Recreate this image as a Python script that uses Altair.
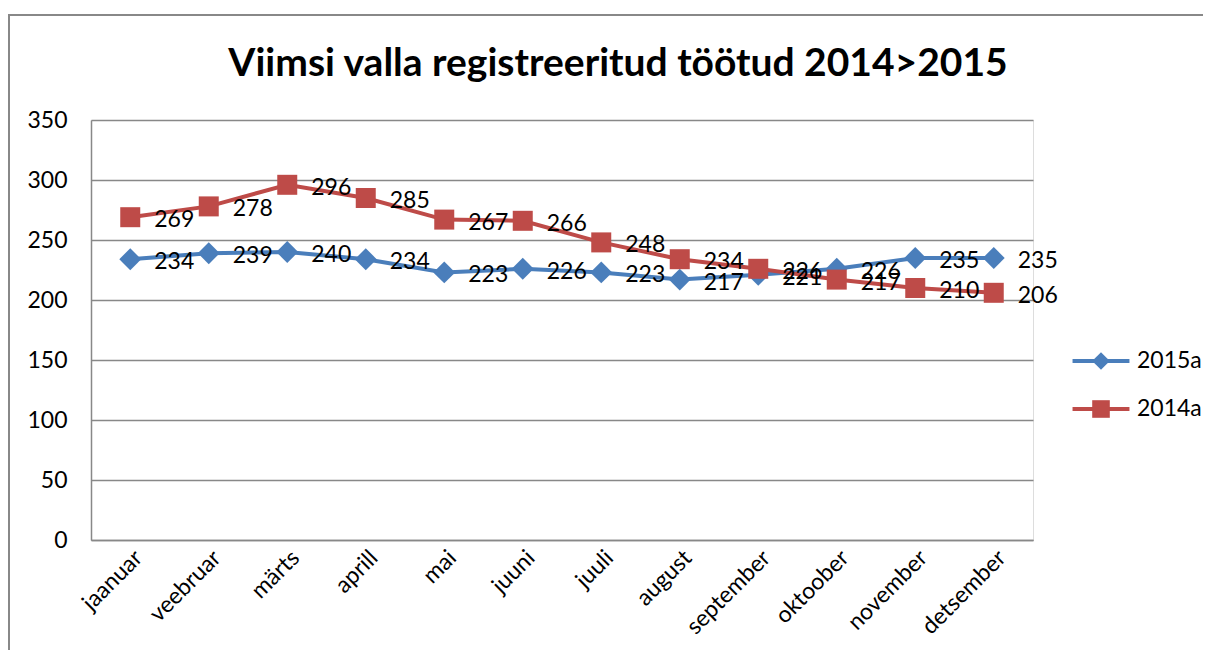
import altair as alt
import pandas as pd

months = ["jaanuar", "veebruar", "märts", "aprill", "mai", "juuni", "juuli",
          "august", "september", "oktoober", "november", "detsember"]
s2015 = [234, 239, 240, 234, 223, 226, 223, 217, 221, 226, 235, 235]
s2014 = [269, 278, 296, 285, 267, 266, 248, 234, 226, 217, 210, 206]
series = ["2015a", "2014a"]
colors = ["#4A7EBB", "#BE4B48"]

rows = []
for m, a, b in zip(months, s2015, s2014):
    rows.append({"month": m, "series": "2015a", "value": a})
    rows.append({"month": m, "series": "2014a", "value": b})
df = pd.DataFrame(rows)

FONT = "Lato"
FS = 23
W, H = 942, 420

x = alt.X("month:N", sort=months, title=None,
          scale=alt.Scale(paddingInner=0, paddingOuter=0),
          axis=alt.Axis(labelAngle=-45, labelAlign="right", labelBaseline="middle",
                        labelFontSize=FS, labelFont=FONT, labelColor="#000",
                        labelPadding=14, labelOffset=8, ticks=False,
                        domainColor="#888", domainWidth=1.5, grid=False))
y = alt.Y("value:Q", title=None,
          scale=alt.Scale(domain=[0, 350], nice=False),
          axis=alt.Axis(values=list(range(0, 351, 50)), labelFontSize=FS,
                        labelFont=FONT, labelColor="#000", labelPadding=24,
                        ticks=False, domainColor="#888", domainWidth=1.5,
                        gridColor="#888", gridWidth=1.5))
color = alt.Color("series:N", sort=series,
                  scale=alt.Scale(domain=series, range=colors),
                  legend=None)

base = alt.Chart(df)

lines = base.mark_line(strokeWidth=4).encode(x=x, y=y, color=color,
                                             detail="series:N")

points = base.mark_point(filled=True, opacity=1).encode(
    x=x, y=y, color=color,
    shape=alt.Shape("series:N", sort=series,
                    scale=alt.Scale(domain=series, range=["diamond", "square"]),
                    legend=None),
    size=alt.Size("series:N", scale=alt.Scale(domain=series, range=[480, 400]),
                  legend=None),
)

labels = base.mark_text(align="left", baseline="middle", dx=24, dy=3,
                        fontSize=FS, font=FONT, color="#000").encode(
    x=x, y=y, text="value:Q")

line_leg = "M-2.07,0H2.07"
diamond_leg = "M0,-0.64L0.64,0L0,0.64L-0.64,0Z"
square_leg = "M-0.64,-0.64H0.64V0.64H-0.64Z"

LX = 994
LY = [225, 273]


def legend_layer(name, path, col, ly, filled, show_label):
    return base.transform_filter("datum.value < 0").mark_point(
        filled=filled, color=col, strokeWidth=4, opacity=1
    ).encode(
        x=x, y=y,
        shape=alt.Shape("series:N",
                        scale=alt.Scale(domain=[name], range=[path]),
                        legend=alt.Legend(
                            title=None, orient="none", legendX=LX, legendY=ly,
                            labelFontSize=FS, labelFont=FONT, labelColor="#000",
                            labelOpacity=1 if show_label else 0,
                            symbolSize=756, symbolStrokeWidth=4, labelOffset=20,
                            symbolOpacity=1)),
    )


legs = [
    legend_layer("2015a", line_leg, colors[0], LY[0], False, False),
    legend_layer("2015a", diamond_leg, colors[0], LY[0], True, True),
    legend_layer("2014a", line_leg, colors[1], LY[1], False, False),
    legend_layer("2014a", square_leg, colors[1], LY[1], True, True),
]

frame = alt.Chart(pd.DataFrame({"a": [0]})).mark_rect(
    fill=None, stroke="#888", strokeWidth=2).encode(
    x=alt.value(-82), x2=alt.value(1200), y=alt.value(-105), y2=alt.value(600))

chart = alt.layer(frame, lines, points, labels, *legs).resolve_scale(
    shape="independent"
).properties(
    width=W, height=H,
    autosize=alt.AutoSizeParams(type="none"),
    padding={"left": 83, "top": 112, "right": 170, "bottom": 110},
    title=alt.Title("Viimsi valla registreeritud töötud 2014>2015",
                    font=FONT, fontSize=39, fontWeight="bold", color="#000",
                    anchor="middle", frame="group", offset=-70, dx=56),
).configure_view(stroke=None).configure(background="white")

chart.save("out.html", embed_options={"renderer": "svg", "actions": False})
